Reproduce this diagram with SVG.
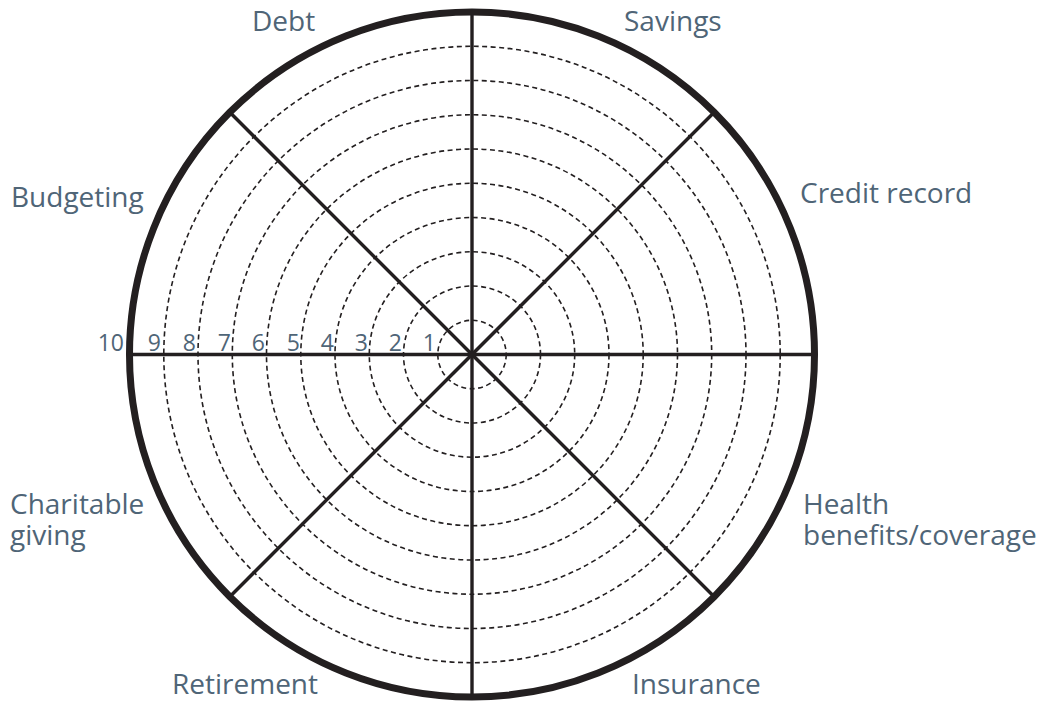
<svg xmlns="http://www.w3.org/2000/svg" width="1047" height="702" viewBox="0 0 1047 702">
  <style>
    .ring { fill: none; stroke: #231f20; stroke-width: 1.6; stroke-dasharray: 5 3.5; }
    .rim { fill: none; stroke: #231f20; stroke-width: 7; }
    .spoke { stroke: #231f20; stroke-width: 3.4; stroke-linecap: butt; }
    .label { font-family: "Open Sans", "Liberation Sans", sans-serif; font-size: 28px; fill: #4f6577; }
    .num { font-family: "Open Sans", "Liberation Sans", sans-serif; font-size: 23px; fill: #4f6577; text-anchor: end; }
  </style>

  <!-- score rings 1..9 -->
  <g id="rings">
    <circle class="ring" cx="472" cy="354.5" r="34.2"/>
    <circle class="ring" cx="472" cy="354.5" r="68.5"/>
    <circle class="ring" cx="472" cy="354.5" r="102.7"/>
    <circle class="ring" cx="472" cy="354.5" r="137"/>
    <circle class="ring" cx="472" cy="354.5" r="171.2"/>
    <circle class="ring" cx="472" cy="354.5" r="205.5"/>
    <circle class="ring" cx="472" cy="354.5" r="239.7"/>
    <circle class="ring" cx="472" cy="354.5" r="274"/>
    <circle class="ring" cx="472" cy="354.5" r="308.2"/>
  </g>

  <!-- eight spokes dividing the wheel -->
  <g id="connectors">
    <line class="spoke" x1="472" y1="12" x2="472" y2="697"/>
    <line class="spoke" x1="129.5" y1="354.5" x2="814.5" y2="354.5"/>
    <line class="spoke" x1="229.8" y1="112.3" x2="714.2" y2="596.7"/>
    <line class="spoke" x1="714.2" y1="112.3" x2="229.8" y2="596.7"/>
  </g>

  <!-- outer rim (score 10) -->
  <g id="rim">
    <circle class="rim" cx="472" cy="354.5" r="342.5"/>
  </g>

  <!-- scale numbers along the left radius -->
  <g id="scale">
    <text class="num" x="436" y="351">1</text>
    <text class="num" x="402" y="351">2</text>
    <text class="num" x="368" y="351">3</text>
    <text class="num" x="334" y="351">4</text>
    <text class="num" x="300" y="351">5</text>
    <text class="num" x="265" y="351">6</text>
    <text class="num" x="231" y="351">7</text>
    <text class="num" x="196" y="351">8</text>
    <text class="num" x="161" y="351">9</text>
    <text class="num" x="124" y="351">10</text>
  </g>

  <g id="debt"><text class="label" x="252" y="31">Debt</text></g>
  <g id="savings"><text class="label" x="624" y="31">Savings</text></g>
  <g id="budgeting"><text class="label" x="11" y="207">Budgeting</text></g>
  <g id="credit-record"><text class="label" x="800" y="203">Credit record</text></g>
  <g id="charitable-giving">
    <text class="label" x="10" y="514">Charitable<tspan x="10" y="545">giving</tspan></text>
  </g>
  <g id="health-benefits">
    <text class="label" x="803" y="514">Health<tspan x="803" y="545">benefits/coverage</tspan></text>
  </g>
  <g id="retirement"><text class="label" x="172" y="694">Retirement</text></g>
  <g id="insurance"><text class="label" x="632" y="694">Insurance</text></g>
</svg>
